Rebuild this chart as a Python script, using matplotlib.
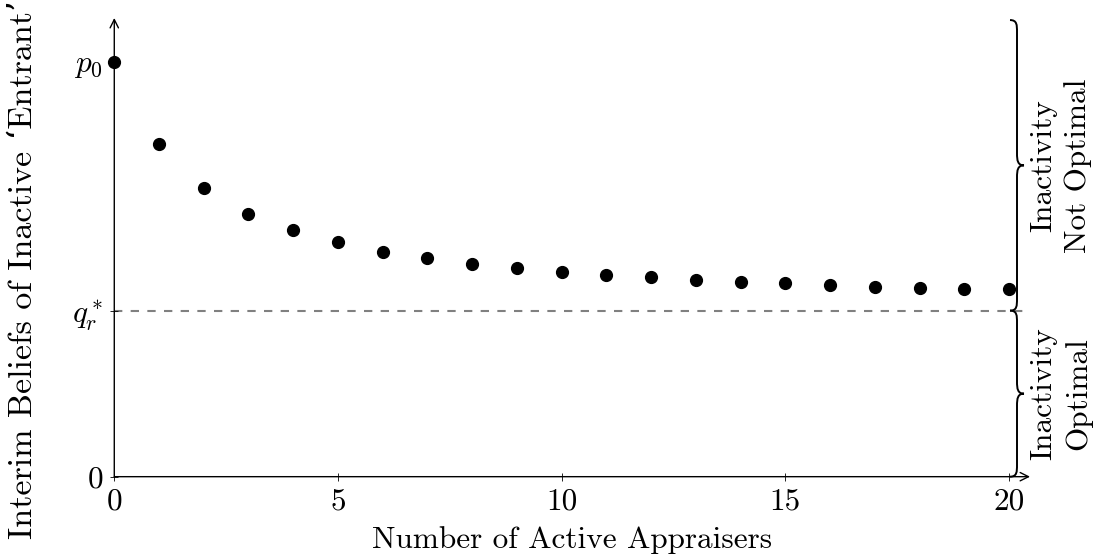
import numpy as np
import matplotlib.pyplot as plt
from matplotlib.path import Path
from matplotlib.patches import PathPatch

plt.rcParams['font.family'] = ['cmr10', 'DejaVu Serif']
plt.rcParams['mathtext.fontset'] = 'cm'
plt.rcParams['axes.formatter.use_mathtext'] = True

# interim beliefs (p0 = 1, q_r* = 0.4)
appraisers = list(range(21))
beliefs = [1.0, 0.801, 0.695, 0.634, 0.594, 0.565, 0.542, 0.526, 0.513, 0.503,
           0.493, 0.487, 0.480, 0.475, 0.470, 0.466, 0.462, 0.458, 0.455, 0.452, 0.451]
p0 = 1.0
q_star = 0.4
xticks = [0, 5, 10, 15, 20]
yticks = [0, q_star, p0]
ytick_labels = ['0', r'$q_r^*$', r'$p_0$']

fs = 22.5

fig = plt.figure(figsize=(11.02, 5.57), dpi=100)
ax = fig.add_axes([0.1037, 0.1442, 0.831, 0.8235])
ax.set_xlim(0, 20.47)
ax.set_ylim(0, 1.105)

for s in ax.spines.values():
    s.set_visible(False)

# axis lines with arrows
arrow = dict(arrowstyle='->,head_length=0.6,head_width=0.3', color='black', lw=1.0,
             shrinkA=0, shrinkB=0)
ax.annotate('', xy=(1, 0), xytext=(0, 0), xycoords='axes fraction', arrowprops=arrow)
ax.annotate('', xy=(0, 1), xytext=(0, 0), xycoords='axes fraction', arrowprops=arrow)

ax.axhline(q_star, color='#808080', lw=1.5, dashes=(4, 4), zorder=1)
ax.plot(appraisers, beliefs, 'o', color='black', ms=8.5, zorder=3, clip_on=False)

ax.set_xticks(xticks)
ax.set_xticklabels([str(t) for t in xticks])
ax.set_yticks(yticks)
ax.set_yticklabels(ytick_labels)
ax.tick_params(direction='inout', length=6, width=0.6, labelsize=fs, pad=5)

fig.text(572 / 1102, 1 - 540 / 557, 'Number of Active Appraisers', fontsize=fs,
         ha='center', va='center')
fig.text(23 / 1102, 1 - 270 / 557, 'Interim Beliefs of Inactive \u2018Entrant\u2019',
         fontsize=24.5, rotation=90, ha='center', va='center')


def brace(y0, y1, xpix=1010, h=7, r=12):
    # curly brace "}" in display pixels between data y0 and y1
    _, b = ax.transData.transform((0, y0))
    _, t = ax.transData.transform((0, y1))
    m = (b + t) / 2
    x = xpix
    verts = [(x, b), (x + h, b), (x + h, b + r * 0.4), (x + h, b + r),
             (x + h, m - r),
             (x + h, m - r * 0.4), (x + h * 1.1, m), (x + 2 * h, m),
             (x + h * 1.1, m), (x + h, m + r * 0.4), (x + h, m + r),
             (x + h, t - r),
             (x + h, t - r * 0.4), (x + h, t), (x, t)]
    codes = [Path.MOVETO, Path.CURVE4, Path.CURVE4, Path.CURVE4, Path.LINETO,
             Path.CURVE4, Path.CURVE4, Path.CURVE4,
             Path.CURVE4, Path.CURVE4, Path.CURVE4, Path.LINETO,
             Path.CURVE4, Path.CURVE4, Path.CURVE4]
    fig.patches.append(PathPatch(Path(verts, codes), transform=None, fill=False,
                                 lw=1.4, color='black'))
    return m


fig.canvas.draw()
m_up = brace(q_star, 1.1)
m_lo = brace(0, q_star)
fig.text(1061 / 1102, m_up / 557, 'Inactivity\nNot Optimal', fontsize=fs, rotation=90,
         ha='center', va='center', multialignment='center', linespacing=1.3)
fig.text(1061 / 1102, m_lo / 557, 'Inactivity\nOptimal', fontsize=fs, rotation=90,
         ha='center', va='center', multialignment='center', linespacing=1.3)

fig.savefig('out.png', dpi=100)
